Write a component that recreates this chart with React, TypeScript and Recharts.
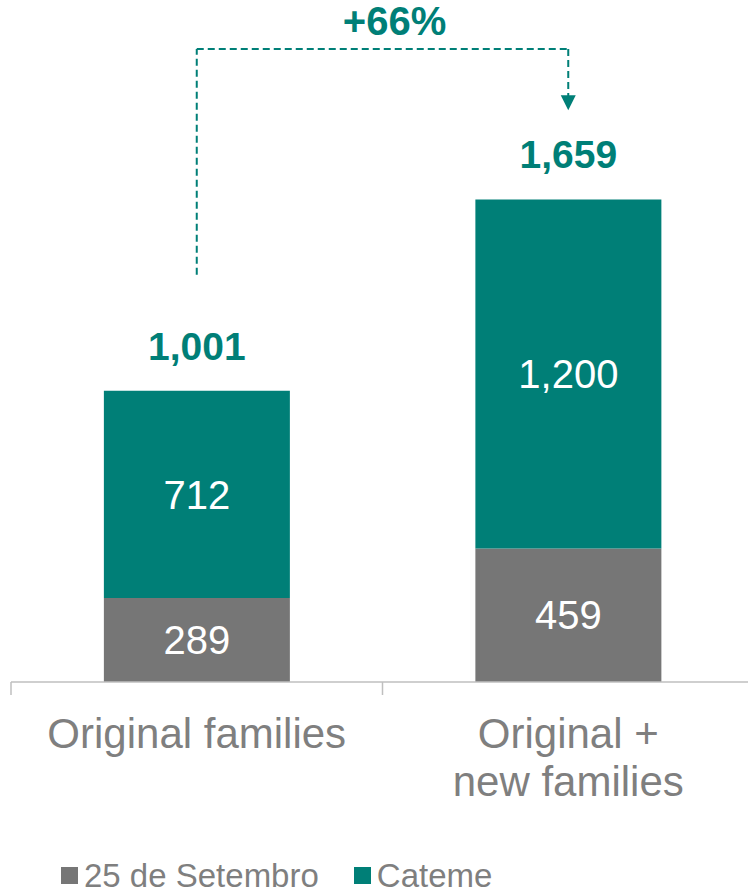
import React from 'react';
import { BarChart, Bar, XAxis, YAxis, LabelList, ReferenceLine, ReferenceDot, Legend } from 'recharts';

const categories = ['Original families', 'Original + new families'];
const categoryLines = [['Original families'], ['Original +', 'new families']];
const setembroValues = [289, 459];
const catemeValues = [712, 1200];
const totalValues = [1001, 1659];
const seriesNames = ['25 de Setembro', 'Cateme'];
const growthLabel = '+66%';
// arrow levels in data units
const arrowStartLevel = 1400;
const arrowTopLevel = 2176;
const arrowHeadTopLevel = 2015;
const arrowTipLevel = 1966;

const TEAL = '#007F77';
const GRAY = '#767676';
const TEXT_GRAY = '#7F7F7F';
const AXIS_GRAY = '#BFBFBF';
const FONT = '"Liberation Sans", Arial, sans-serif';

const data = categories.map((name, i) => ({
  name,
  setembro: setembroValues[i],
  cateme: catemeValues[i],
  total: totalValues[i],
}));

const fmt = (v: any) => Number(v).toLocaleString('en-US');

const CategoryTick = (props: any) => {
  const { x, y, payload, index } = props;
  const half = payload && payload.offset != null ? payload.offset : 0;
  const lines = categoryLines[index] || [String(payload.value)];
  return (
    <g>
      <line x1={x - half} x2={x - half} y1={y} y2={y + 13} stroke={AXIS_GRAY} strokeWidth={1.5} />
      {index === categories.length - 1 && (
        <line x1={x + half} x2={x + half} y1={y} y2={y + 13} stroke={AXIS_GRAY} strokeWidth={1.5} />
      )}
      <text x={x} y={y + 66} textAnchor="middle" fill={TEXT_GRAY} fontSize={42} fontFamily={FONT}>
        {lines.map((l: string, i: number) => (
          <tspan key={i} x={x} dy={i === 0 ? 0 : 48}>
            {l}
          </tspan>
        ))}
      </text>
    </g>
  );
};

const renderLegend = (props: any) => {
  const payload = props.payload || [];
  return (
    <div style={{ display: 'flex', alignItems: 'center', paddingLeft: 61, fontFamily: FONT }}>
      {payload.map((entry: any, i: number) => (
        <div key={i} style={{ display: 'flex', alignItems: 'center', marginRight: 35 }}>
          <div style={{ width: 17, height: 17, background: entry.color, marginRight: 6 }} />
          <span style={{ fontSize: 33, lineHeight: 1, color: TEXT_GRAY }}>{entry.value}</span>
        </div>
      ))}
    </div>
  );
};

const Arrowhead = (props: any) => {
  const { cx, cy } = props;
  if (cx == null || cy == null) return null;
  return <polygon points={`${cx},${cy} ${cx - 7.5},${cy - 15} ${cx + 7.5},${cy - 15}`} fill={TEAL} />;
};

const GrowthLabel = (props: any) => {
  const vb = props.viewBox || {};
  const cx = (vb.x || 0) + (vb.width || 0) / 2 + 12;
  const cy = vb.y || 0;
  return (
    <text x={cx} y={cy - 14} textAnchor="middle" fill={TEAL} fontSize={40} fontWeight="bold" fontFamily={FONT}>
      {growthLabel}
    </text>
  );
};

export default function App() {
  return (
    <div style={{ position: 'absolute', left: 0, top: 0, width: 748, height: 893, overflow: 'hidden', background: '#fff' }}>
      <BarChart
        width={760}
        height={893}
        data={data}
        margin={{ top: 13, right: 6, left: 11, bottom: 0 }}
        barCategoryGap="25%"
      >
        <YAxis hide domain={[0, 2300]} />
        <XAxis
          dataKey="name"
          height={211}
          axisLine={{ stroke: AXIS_GRAY, strokeWidth: 1.5 }}
          tickLine={false}
          tickSize={0}
          tickMargin={0}
          interval={0}
          tick={<CategoryTick />}
        />
        <Bar dataKey="setembro" name={seriesNames[0]} stackId="a" fill={GRAY} isAnimationActive={false}>
          <LabelList dataKey="setembro" position="center" fill="#FFFFFF" fontSize={40} fontFamily={FONT} formatter={fmt} />
        </Bar>
        <Bar dataKey="cateme" name={seriesNames[1]} stackId="a" fill={TEAL} isAnimationActive={false}>
          <LabelList dataKey="cateme" position="center" fill="#FFFFFF" fontSize={40} fontFamily={FONT} formatter={fmt} />
          <LabelList
            dataKey="total"
            position="top"
            offset={31}
            fill={TEAL}
            fontSize={39}
            fontWeight="bold"
            fontFamily={FONT}
            formatter={fmt}
          />
        </Bar>
        <ReferenceLine
          segment={[
            { x: categories[0], y: arrowStartLevel },
            { x: categories[0], y: arrowTopLevel },
          ]}
          stroke={TEAL}
          strokeWidth={2}
          strokeDasharray="7 4"
        />
        <ReferenceLine
          segment={[
            { x: categories[0], y: arrowTopLevel },
            { x: categories[1], y: arrowTopLevel },
          ]}
          stroke={TEAL}
          strokeWidth={2}
          strokeDasharray="7 4"
          label={<GrowthLabel />}
        />
        <ReferenceLine
          segment={[
            { x: categories[1], y: arrowTopLevel },
            { x: categories[1], y: arrowHeadTopLevel },
          ]}
          stroke={TEAL}
          strokeWidth={2}
          strokeDasharray="7 4"
        />
        <ReferenceDot x={categories[1]} y={arrowTipLevel} shape={<Arrowhead />} />
        <Legend
          layout="vertical"
          align="center"
          verticalAlign="middle"
          content={renderLegend}
          wrapperStyle={{ left: 0, top: 859, width: 748 }}
        />
      </BarChart>
    </div>
  );
}
